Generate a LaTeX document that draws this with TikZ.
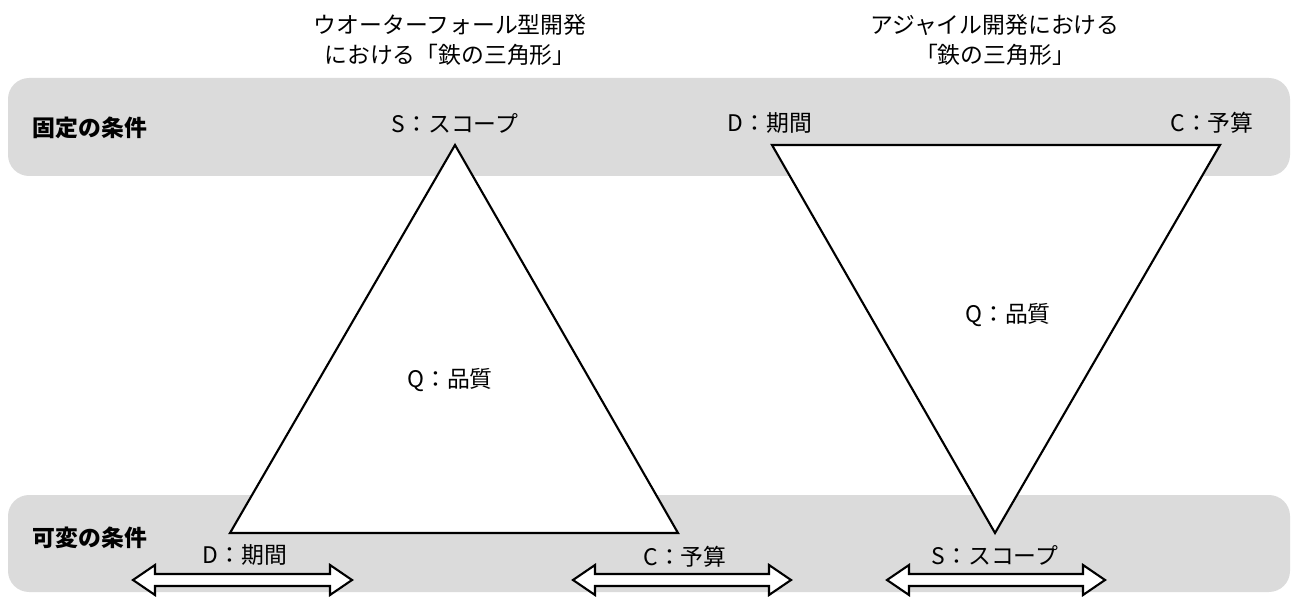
\documentclass[tikz,border=0pt]{standalone}
\usepackage{fontspec}
\setmainfont{Noto Sans CJK JP}
\begin{document}
\begin{tikzpicture}[x=0.02cm,y=-0.02cm,
  band/.style={fill=black!14,draw=none,rounded corners=12pt},
  tri/.style={draw=black,line width=1.2pt,fill=white,line join=miter},
  lbl/.style={font=\fontsize{13}{16}\selectfont,inner sep=0pt},
  ttl/.style={font=\fontsize{13}{17}\selectfont,align=center,inner sep=0pt},
  blbl/.style={font=\bfseries\fontsize{13}{16}\selectfont,inner sep=0pt}]
\useasboundingbox (0,0) rectangle (1300,614);
\fill[band] (8,78) rectangle (1290,176);
\fill[band] (8,495) rectangle (1290,592);
\node[blbl] (fix) at (90,128) {固定の条件};
\node[blbl] (var) at (90,538) {可変の条件};
\node[ttl] (t1) at (450,40) {ウオーターフォール型開発\\における「鉄の三角形」};
\node[ttl] (t2) at (995,40) {アジャイル開発における\\「鉄の三角形」};
\coordinate (a1) at (455,145); \coordinate (b1) at (230,533); \coordinate (c1) at (678,533);
\coordinate (a2) at (772,145); \coordinate (b2) at (1220,145); \coordinate (c2) at (995,533);
\draw[tri] (a1) -- (b1) -- (c1) -- cycle;
\draw[tri] (a2) -- (b2) -- (c2) -- cycle;
\node[lbl] (s1) at (455,123) {S：スコープ};
\node[lbl] (q1) at (450,380) {Q：品質};
\node[lbl] (d1) at (245,555) {D：期間};
\node[lbl] (cc1) at (685,557) {C：予算};
\node[lbl] (d2) at (770,123) {D：期間};
\node[lbl] (cc2) at (1212,123) {C：予算};
\node[lbl] (q2) at (1008,315) {Q：品質};
\node[lbl] (s2) at (995,555) {S：スコープ};
\foreach \xa/\xb in {133/352, 573/791, 887/1105}{
  \draw[line width=1.2pt,fill=white,line join=miter]
   (\xa,580) -- (\xa+22,565) -- (\xa+22,574) -- (\xb-22,574) -- (\xb-22,565) -- (\xb,580)
   -- (\xb-22,595) -- (\xb-22,586) -- (\xa+22,586) -- (\xa+22,595) -- cycle;
}
\end{tikzpicture}
\end{document}
